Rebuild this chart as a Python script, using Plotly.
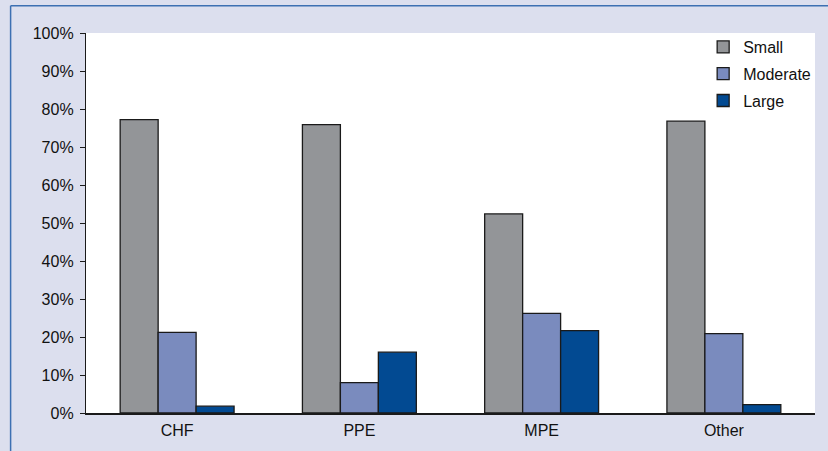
import plotly.graph_objects as go

categories = ["CHF", "PPE", "MPE", "Other"]
small = [77.2, 75.9, 52.4, 76.8]
moderate = [21.2, 8.0, 26.2, 20.9]
large = [1.8, 16.0, 21.7, 2.2]
y_ticks = [0, 10, 20, 30, 40, 50, 60, 70, 80, 90, 100]
y_tick_labels = [f"{v}%" for v in y_ticks]

W, H = 828, 451
ml, mr, mt, mb = 86, 12, 33, 36
pw, ph = W - ml - mr, H - mt - mb

FONT = "Liberation Sans, Arial, sans-serif"
line = dict(color="#1a1a1a", width=1.3)

fig = go.Figure()
for name, vals, col in [("Small", small, "#939598"),
                        ("Moderate", moderate, "#7a8bbe"),
                        ("Large", large, "#024a92")]:
    fig.add_trace(go.Bar(name=name, x=categories, y=vals,
                         marker=dict(color=col, line=line),
                         legendgroup=name))

def px_to_paper_x(px):
    return (px - ml) / pw

def px_to_paper_y(py):
    return 1 - (py - mt) / ph

border_col = "#3d70b2"
fig.add_shape(type="line", xref="paper", yref="paper",
              x0=px_to_paper_x(10.5), x1=px_to_paper_x(10.5),
              y0=px_to_paper_y(5.5), y1=px_to_paper_y(H + 5),
              line=dict(color=border_col, width=1.5))
fig.add_shape(type="line", xref="paper", yref="paper",
              x0=px_to_paper_x(10.5), x1=px_to_paper_x(W + 5),
              y0=px_to_paper_y(5.5), y1=px_to_paper_y(5.5),
              line=dict(color=border_col, width=1.5))

fig.update_layout(
    width=W, height=H,
    margin=dict(l=ml, r=mr, t=mt, b=mb, pad=0),
    paper_bgcolor="#dcdfee",
    plot_bgcolor="#ffffff",
    barmode="group",
    bargap=0.375,
    bargroupgap=0,
    font=dict(family=FONT, size=16, color="#111111"),
    legend=dict(x=px_to_paper_x(704), y=px_to_paper_y(30),
                xanchor="left", yanchor="top",
                bgcolor="rgba(0,0,0,0)",
                font=dict(family=FONT, size=16, color="#111111"),
                traceorder="grouped", tracegroupgap=3),
    showlegend=True,
)
fig.update_yaxes(range=[0, 100], tickvals=y_ticks, ticktext=y_tick_labels,
                 showgrid=False, zeroline=False, showline=True,
                 linecolor="#1a1a1a", linewidth=1.3,
                 ticks="outside", ticklen=5, tickcolor="#1a1a1a",
                 tickwidth=1.2, ticklabelstandoff=3)
fig.update_xaxes(showgrid=False, showline=True, linecolor="#1a1a1a",
                 linewidth=1.5, ticks="", ticklabelstandoff=2)

fig.write_html("out.html", config={"displayModeBar": False},
               post_script="document.body.style.margin='0';document.body.style.overflow='hidden';")
